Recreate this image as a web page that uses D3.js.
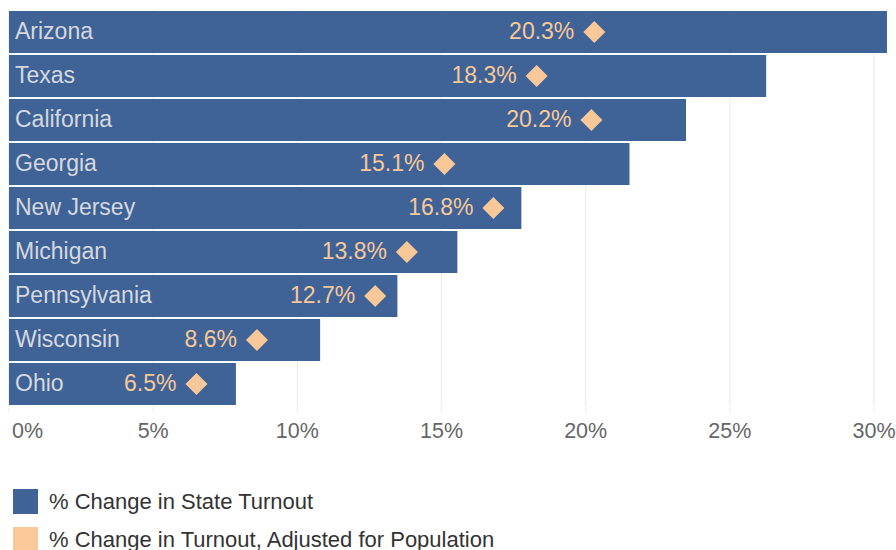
<!DOCTYPE html>
<html>
<head>
<meta charset="utf-8">
<script src="https://cdn.jsdelivr.net/npm/d3@7"></script>
<style>
  body { margin: 0; background: #fff; }
  svg { display: block; font-family: Arial, "Liberation Sans", Helvetica, sans-serif; }
</style>
</head>
<body>
<svg id="chart" width="896" height="550"></svg>
<script>
// dados
const states = ["Arizona", "Texas", "California", "Georgia", "New Jersey", "Michigan", "Pennsylvania", "Wisconsin", "Ohio"];
const turnout = [30.45, 26.26, 23.48, 21.52, 17.77, 15.55, 13.47, 10.79, 7.87];
const adjusted = [20.3, 18.3, 20.2, 15.1, 16.8, 13.8, 12.7, 8.6, 6.5];
const ticks = [0, 5, 10, 15, 20, 25, 30];
const legendLabels = ["% Change in State Turnout", "% Change in Turnout, Adjusted for Population"];

const barColor = "#3f6397";
const peach = "#f8c898";

const svg = d3.select("#chart");

const x = d3.scaleLinear().domain([0, 30]).range([9, 874]);
const y = d3.scaleBand().domain(states).range([10, 406]).paddingInner(2 / 44).paddingOuter(1 / 44);

// linhas de grade + marcas
const grid = svg.append("g");
grid.selectAll("line.grid")
  .data(ticks)
  .join("line")
  .attr("x1", d => x(d)).attr("x2", d => x(d))
  .attr("y1", 10).attr("y2", 406)
  .attr("stroke", "#ececec").attr("stroke-width", 1.2);
grid.selectAll("line.tick")
  .data(ticks)
  .join("line")
  .attr("x1", d => x(d)).attr("x2", d => x(d))
  .attr("y1", 407).attr("y2", 413)
  .attr("stroke", "#f2f2f2").attr("stroke-width", 1.2);

// rótulos do eixo x
svg.append("g").selectAll("text")
  .data(ticks)
  .join("text")
  .attr("x", (d, i) => i === 0 ? x(d) + 3 : x(d))
  .attr("y", 438)
  .attr("text-anchor", (d, i) => i === 0 ? "start" : "middle")
  .attr("font-size", 21.5)
  .attr("fill", "#666")
  .text(d => d + "%");

// barras
svg.append("g").selectAll("rect")
  .data(states)
  .join("rect")
  .attr("x", x(0))
  .attr("y", d => y(d))
  .attr("width", (d, i) => x(turnout[i]) - x(0))
  .attr("height", y.bandwidth())
  .attr("fill", barColor);

// nomes dos estados
svg.append("g").selectAll("text")
  .data(states)
  .join("text")
  .attr("x", 15)
  .attr("y", d => y(d) + y.bandwidth() / 2 + 7)
  .attr("font-size", 23)
  .attr("fill", "#d5d8df")
  .text(d => d);

// losangos
const r = 11;
svg.append("g").selectAll("path")
  .data(states)
  .join("path")
  .attr("transform", (d, i) => `translate(${x(adjusted[i])},${y(d) + y.bandwidth() / 2})`)
  .attr("d", `M0,${-r}L${r},0L0,${r}L${-r},0Z`)
  .attr("fill", peach);

// valores ajustados
svg.append("g").selectAll("text")
  .data(states)
  .join("text")
  .attr("x", (d, i) => x(adjusted[i]) - 20)
  .attr("y", d => y(d) + y.bandwidth() / 2 + 7)
  .attr("text-anchor", "end")
  .attr("font-size", 23)
  .attr("fill", peach)
  .text((d, i) => adjusted[i].toFixed(1) + "%");

// legenda
const legend = svg.append("g");
const legendColors = [barColor, "#fbc999"];
legend.selectAll("rect")
  .data(legendLabels)
  .join("rect")
  .attr("x", 13)
  .attr("y", (d, i) => 489 + i * 38)
  .attr("width", 25).attr("height", 25)
  .attr("fill", (d, i) => legendColors[i]);
legend.selectAll("text")
  .data(legendLabels)
  .join("text")
  .attr("x", 49)
  .attr("y", (d, i) => 508.5 + i * 38)
  .attr("font-size", 22)
  .attr("fill", "#333")
  .text(d => d);
</script>
</body>
</html>
